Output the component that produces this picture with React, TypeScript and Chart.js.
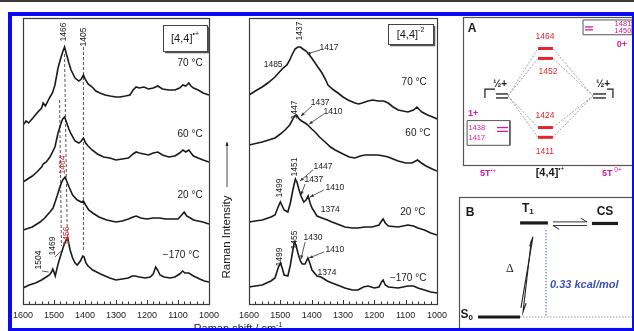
import React, { useEffect, useRef } from "react";
import { Chart, registerables } from "chart.js";
Chart.register(...registerables);

const SANS = '"Liberation Sans", Arial, Helvetica, sans-serif';
const SERIF = '"Liberation Serif", "DejaVu Serif", serif';
const INK = "#1a1a1a";
const RED = "#e3262e";
const MAGENTA = "#d9189c";
const BLUE_TXT = "#3c50b4";

// ---------------- data: x-axis ----------------
const xTickLabels = [1600, 1500, 1400, 1300, 1200, 1100, 1000];
const temps = ["70 °C", "60 °C", "20 °C", "−170 °C"];

// ---------------- panel 1: [4,4]•+ Raman spectra (stacked, arbitrary units) ----------------
const p1W70 = [1600,1590,1582,1568,1555,1540,1535,1528,1513,1505,1497,1487,1478,1472,1466,1460,1452,1445,1432,1420,1412,1405,1398,1390,1377,1365,1352,1335,1319,1300,1287,1270,1255,1245,1235,1225,1210,1195,1180,1165,1150,1130,1110,1095,1084,1075,1065,1058,1050,1035,1019,1000];
const p1I70 = [179,183,181,186,191,196,201,198,207,211,219,236,246,252,257,250,241,234,226,223,225,229,224,220,217,213,211,209,208,207,207,208,209,214,217,216,217,215,216,218,215,214,214,216,219,218,221,218,216,214,211,209];
const p1W60 = [1600,1585,1570,1555,1540,1535,1525,1513,1497,1487,1478,1472,1466,1460,1452,1445,1432,1420,1412,1405,1398,1390,1377,1360,1340,1320,1300,1280,1260,1245,1235,1225,1210,1195,1180,1165,1150,1130,1110,1095,1084,1075,1065,1058,1050,1035,1019,1000];
const p1I60 = [122,125,128,132,137,140,142,147,157,171,180,185,187,182,175,170,163,161,163,166,161,158,154,150,147,146,144,145,146,150,152,151,150,149,151,152,149,147,148,151,154,152,154,151,148,146,144,142];
const p1W20 = [1600,1570,1545,1530,1513,1503,1490,1480,1472,1464,1458,1450,1440,1425,1412,1405,1398,1388,1375,1355,1330,1300,1280,1260,1245,1235,1220,1200,1180,1160,1140,1120,1100,1088,1080,1072,1060,1050,1035,1020,1000];
const p1I20 = [74,77,82,86,92,96,108,118,124,127,122,116,109,104,102,103,99,94,91,87,84,82,83,85,87,88,86,85,86,86,85,85,85,89,92,88,86,84,83,82,80];
const p1Wm170 = [1600,1580,1560,1540,1525,1515,1508,1504,1500,1496,1490,1485,1478,1470,1465,1460,1456,1452,1448,1440,1432,1425,1415,1407,1403,1397,1390,1375,1350,1320,1300,1280,1260,1248,1238,1225,1205,1190,1180,1172,1166,1158,1145,1125,1110,1095,1085,1078,1065,1050,1030,1015,1000];
const p1Im170 = [16,19,21,24,27,29,32,35,32,28,36,42,49,57,61,64,66,60,54,46,41,39,43,48,47,41,38,34,30,26,24,25,26,28,28,27,26,27,30,37,34,29,27,26,27,30,33,31,31,28,25,23,22];

// ---------------- panel 2: [4,4]-2 Raman spectra ----------------
const p2W70 = [1600,1580,1558,1540,1517,1500,1491,1479,1470,1463,1453,1444,1436,1428,1418,1412,1400,1389,1378,1367,1355,1348,1330,1316,1300,1284,1262,1250,1239,1220,1205,1188,1170,1156,1140,1124,1093,1075,1064,1055,1048,1030,1006,1000];
const p2I70 = [209,213,217,221,227,233,236,239,244,249,255,257,257,255,253,251,246,241,236,231,224,219,214,211,207,204,201,200,201,203,204,203,203,201,197,194,192,194,197,194,192,189,186,185];
const p2W60 = [1600,1558,1517,1500,1485,1470,1463,1455,1448,1440,1432,1421,1412,1400,1389,1375,1357,1340,1325,1300,1280,1262,1245,1230,1210,1188,1170,1156,1140,1124,1100,1080,1062,1050,1035,1015,1000];
const p2I60 = [159,162,166,170,174,179,183,188,189,185,183,181,179,175,172,167,162,157,154,150,147,146,148,149,149,149,148,147,145,143,141,141,144,141,138,135,133];
const p2W20 = [1600,1580,1558,1530,1517,1507,1500,1494,1488,1476,1468,1460,1452,1447,1441,1434,1425,1418,1411,1405,1399,1383,1367,1350,1335,1310,1294,1270,1252,1230,1207,1185,1177,1172,1165,1155,1124,1093,1075,1061,1040,1020,1000];
const p2I20 = [82,83,84,87,89,97,102,98,94,92,101,114,125,122,115,108,102,104,108,101,96,88,86,84,82,79,77,76,76,77,77,79,83,85,81,78,77,79,78,76,74,71,69];
const p2Wm170 = [1600,1580,1558,1530,1517,1507,1500,1494,1488,1476,1468,1460,1455,1450,1444,1436,1430,1421,1412,1406,1399,1383,1370,1350,1335,1310,1294,1270,1252,1235,1220,1200,1185,1177,1172,1165,1155,1124,1093,1075,1061,1040,1020,1000];
const p2Im170 = [17,18,19,23,26,36,41,36,29,28,39,54,62,59,51,43,40,40,46,41,34,28,27,23,21,18,16,14,14,17,18,16,17,22,24,19,17,16,18,18,16,14,12,11];

// ---------------- panel A: level scheme (schematic units) ----------------
const aRedLevels = [78.7, 72.0, 25.3, 18.7];
const aRedNames = ["1464", "1452", "1424", "1411"];
const aHalfLevels = [48.0, 45.3];
const aOnePlusLevels = [25.3, 22.7];
const aOnePlusNames = ["1438", "1417"];
const aZeroPlusLevels = [93.3, 91.3];
const aZeroPlusNames = ["1481", "1450"];

// ---------------- panel B: state scheme ----------------
const bStateNames = ["S0", "T1", "CS"];
const bStateLevels = [8.4, 80.2, 79.8];
const bGap = "0.33 kcal/mol";

// ---------------- helpers ----------------
type Part = { t: string; size: number; weight?: string; style?: string; dy?: number; family?: string };
function drawParts(ctx: any, parts: Part[], x: number, y: number, color: string, align = "center") {
  ctx.save();
  ctx.fillStyle = color;
  ctx.textBaseline = "middle";
  ctx.textAlign = "left";
  const fonts = parts.map((p) => `${p.style || ""} ${p.weight || ""} ${p.size}px ${p.family || SANS}`.trim());
  let total = 0;
  parts.forEach((p, i) => { ctx.font = fonts[i]; total += ctx.measureText(p.t).width; });
  let cx = align === "center" ? x - total / 2 : align === "right" ? x - total : x;
  parts.forEach((p, i) => { ctx.font = fonts[i]; ctx.fillText(p.t, cx, y + (p.dy || 0)); cx += ctx.measureText(p.t).width; });
  ctx.restore();
  return total;
}
function drawRot(ctx: any, text: string, x: number, y: number, size: number, color: string) {
  ctx.save();
  ctx.translate(x, y);
  ctx.rotate(-Math.PI / 2);
  ctx.fillStyle = color;
  ctx.font = `${size}px ${SANS}`;
  ctx.textAlign = "center";
  ctx.textBaseline = "middle";
  ctx.fillText(text, 0, 0);
  ctx.restore();
}
function arrowLine(ctx: any, x1: number, y1: number, x2: number, y2: number, color = "#333") {
  ctx.save();
  ctx.strokeStyle = color;
  ctx.fillStyle = color;
  ctx.lineWidth = 0.8;
  ctx.beginPath(); ctx.moveTo(x1, y1); ctx.lineTo(x2, y2); ctx.stroke();
  const a = Math.atan2(y2 - y1, x2 - x1);
  ctx.beginPath();
  ctx.moveTo(x2, y2);
  ctx.lineTo(x2 - 4 * Math.cos(a - 0.4), y2 - 4 * Math.sin(a - 0.4));
  ctx.lineTo(x2 - 4 * Math.cos(a + 0.4), y2 - 4 * Math.sin(a + 0.4));
  ctx.closePath(); ctx.fill();
  ctx.restore();
}
function seg(points: number[][], color: string, width: number, dash: number[] = []) {
  return {
    data: points.map(([x, y]) => ({ x, y })),
    showLine: true, borderColor: color, borderWidth: width, borderDash: dash,
    pointRadius: 0, tension: 0, clip: false as any,
  };
}
function series(w: number[], v: number[]) {
  return {
    data: w.map((x, i) => ({ x, y: v[i] })),
    showLine: true, borderColor: INK, borderWidth: 1.6, pointRadius: 0, tension: 0,
  };
}
const framePlugin = (color = "#444", width = 1) => ({
  id: "frame",
  afterDatasetsDraw(chart: any) {
    const { left, top, right, bottom } = chart.chartArea;
    const ctx = chart.ctx;
    ctx.save(); ctx.strokeStyle = color; ctx.lineWidth = width;
    ctx.strokeRect(Math.round(left) + 0.5, Math.round(top) + 0.5, Math.round(right - left), Math.round(bottom - top));
    ctx.restore();
  },
});
const insideTicks = {
  id: "insideTicks",
  afterDatasetsDraw(chart: any) {
    const s = chart.scales.x; const ctx = chart.ctx; const b = chart.chartArea.bottom;
    ctx.save(); ctx.strokeStyle = "#333"; ctx.lineWidth = 1;
    for (const t of s.ticks) {
      const px = Math.round(s.getPixelForValue(t.value)) + 0.5;
      const len = xTickLabels.includes(t.value) ? 4 : 2.5;
      ctx.beginPath(); ctx.moveTo(px, b); ctx.lineTo(px, b - len); ctx.stroke();
    }
    ctx.restore();
  },
};
function boxLabel(ctx: any, right: number, top: number, w: number, h: number, sup: string) {
  ctx.save();
  ctx.fillStyle = "#fff";
  ctx.fillRect(right - w, top, w, h);
  ctx.strokeStyle = "#444"; ctx.lineWidth = 1;
  ctx.strokeRect(right - w + 0.5, top + 0.5, w, h);
  ctx.lineWidth = 1.5; ctx.strokeStyle = "#555";
  ctx.beginPath(); ctx.moveTo(right - w + 2, top + h + 1.5); ctx.lineTo(right + 1.5, top + h + 1.5); ctx.lineTo(right + 1.5, top + 2); ctx.stroke();
  ctx.restore();
  drawParts(ctx, [{ t: "[4,4]", size: 11 }, { t: sup, size: 7, dy: -5 }], right - w / 2, top + h / 2 + 1, INK);
}

function spectrumConfig(datasets: any[], padLeft: number, padRight: number, draw: (chart: any) => void) {
  return {
    type: "scatter",
    data: { datasets },
    options: {
      responsive: false, animation: false, devicePixelRatio: 1, events: [],
      layout: { padding: { left: padLeft, right: padRight, top: 18, bottom: 7 } },
      plugins: { legend: { display: false }, tooltip: { enabled: false } },
      scales: {
        x: {
          type: "linear", min: 1000, max: 1600, reverse: true,
          afterFit: (s: any) => { s.height = 20; },
          ticks: {
            stepSize: 20, autoSkip: false, maxRotation: 0, padding: 6, color: "#222",
            font: { family: SANS, size: 9 },
            callback: (v: any) => (xTickLabels.includes(v) ? String(v) : ""),
          },
          grid: { display: false, drawTicks: false }, border: { display: false },
        },
        y: { display: false, min: 0, max: 286 },
      },
    },
    plugins: [framePlugin("#3a3a3a", 1.2), insideTicks, { id: "labels", afterDraw: draw }],
  } as any;
}

// ---------------- panel configs ----------------
function panel1() {
  const ds = [
    series(p1W70, p1I70), series(p1W60, p1I60), series(p1W20, p1I20), series(p1Wm170, p1Im170),
    seg([[1405, 257], [1405, 52]], "#555", 1, [3, 2]),
    seg([[1466, 250], [1457, 64]], "#555", 1, [3, 2]),
    seg([[1482, 204], [1476, 58]], "#555", 1, [3, 2]),
  ];
  const draw = (chart: any) => {
    const ctx = chart.ctx; const X = (v: number) => chart.scales.x.getPixelForValue(v); const Y = (v: number) => chart.scales.y.getPixelForValue(v);
    drawRot(ctx, "1466", X(1468), Y(272), 8.5, INK);
    drawRot(ctx, "1405", X(1403), Y(267), 8.5, INK);
    drawRot(ctx, "1464", X(1471), Y(139), 8.5, RED);
    drawRot(ctx, "1456", X(1458), Y(68), 8.5, RED);
    drawRot(ctx, "1469", X(1503), Y(58), 8.5, INK);
    drawRot(ctx, "1504", X(1548), Y(44), 8.5, INK);
    ctx.save(); ctx.strokeStyle = "#333"; ctx.lineWidth = 0.8;
    ctx.beginPath(); ctx.moveTo(X(1497), Y(47)); ctx.lineTo(X(1478), Y(53)); ctx.stroke();
    ctx.beginPath(); ctx.moveTo(X(1539), Y(33)); ctx.lineTo(X(1517), Y(32)); ctx.stroke();
    ctx.restore();
    const tv = [241, 170, 109, 49]; const tw = [1061, 1061, 1061, 1090];
    temps.forEach((t, i) => drawParts(ctx, [{ t, size: 10 }], X(tw[i]), Y(tv[i]), INK));
    boxLabel(ctx, chart.chartArea.right - 2, chart.chartArea.top + 7, 44, 26, "•+");
  };
  return spectrumConfig(ds, 23, 634 - 209, draw);
}

function panel2() {
  const ds = [series(p2W70, p2I70), series(p2W60, p2I60), series(p2W20, p2I20), series(p2Wm170, p2Im170)];
  const draw = (chart: any) => {
    const ctx = chart.ctx; const X = (v: number) => chart.scales.x.getPixelForValue(v); const Y = (v: number) => chart.scales.y.getPixelForValue(v);
    const rot: [string, number, number][] = [["1437", 1437, 273], ["1447", 1453, 194], ["1451", 1453, 137], ["1499", 1501, 116], ["1499", 1501, 47], ["1455", 1453, 64]];
    rot.forEach(([t, w, v]) => drawRot(ctx, t, X(w), Y(v), 8.5, INK));
    const tags: [string, number, number, number, number, number, number][] = [
      ["1417", 1345, 256, 1373, 254, 1415, 250],
      ["1437", 1373, 201, 1399, 198, 1434, 188],
      ["1410", 1332, 192, 1361, 190, 1408, 180],
      ["1447", 1364, 137, 1396, 134, 1437, 123],
      ["1437", 1393, 124, 1421, 120, 1434, 109],
      ["1410", 1326, 116, 1361, 114, 1405, 107],
      ["1430", 1396, 66, 1421, 62, 1434, 45],
      ["1410", 1326, 54, 1361, 52, 1408, 46],
    ];
    tags.forEach(([t, w, v, w1, v1, w2, v2]) => {
      drawParts(ctx, [{ t, size: 8.5 }], X(w), Y(v), INK);
      arrowLine(ctx, X(w1), Y(v1), X(w2), Y(v2));
    });
    drawParts(ctx, [{ t: "1485", size: 8.5 }], X(1523), Y(239), INK);
    drawParts(ctx, [{ t: "1374", size: 8.5 }], X(1341), Y(94), INK);
    drawParts(ctx, [{ t: "1374", size: 8.5 }], X(1351), Y(31), INK);
    const tv = [222, 171, 92, 26]; const tw = [1073, 1061, 1077, 1092];
    temps.forEach((t, i) => drawParts(ctx, [{ t, size: 10 }], X(tw[i]), Y(tv[i]), INK));
    boxLabel(ctx, chart.chartArea.right - 4, chart.chartArea.top + 6, 45, 20, "-2");
    // axis titles
    const L = chart.chartArea.left;
    drawRot(ctx, "Raman Intensity", L - 22, 237, 11.5, INK);
    arrowLine(ctx, L - 22, 187, L - 22, 142, INK);
    drawParts(ctx, [{ t: "Raman shift / cm", size: 11 }, { t: "-1", size: 7, dy: -4 }], L - 11, 329, INK);
  };
  return spectrumConfig(ds, 249, 634 - 437, draw);
}

function diagramConfig(datasets: any[], pad: any, draw: (chart: any) => void, frameColor: string) {
  return {
    type: "scatter",
    data: { datasets },
    options: {
      responsive: false, animation: false, devicePixelRatio: 1, events: [],
      layout: { padding: pad },
      plugins: { legend: { display: false }, tooltip: { enabled: false } },
      scales: { x: { display: false, min: 0, max: 100 }, y: { display: false, min: 0, max: 100 } },
    },
    plugins: [framePlugin(frameColor, 1.2), { id: "labels", afterDraw: draw }],
  } as any;
}

function panelA() {
  const cL = 44.1, cR = 52.9, hL = [19.4, 26.5], hR = [76.5, 84.1];
  const halfMid = (aHalfLevels[0] + aHalfLevels[1]) / 2;
  const ds: any[] = [];
  aRedLevels.forEach((y) => {
    ds.push(seg([[hL[1], halfMid], [cL, y]], "#9a9a9a", 0.9, [2, 1.5]));
    ds.push(seg([[hR[0], halfMid], [cR, y]], "#9a9a9a", 0.9, [2, 1.5]));
  });
  aRedLevels.forEach((y) => ds.push(seg([[cL, y], [cR, y]], RED, 3)));
  aHalfLevels.forEach((y) => { ds.push(seg([[hL[0], y], [hL[1], y]], INK, 1.3)); ds.push(seg([[hR[0], y], [hR[1], y]], INK, 1.3)); });
  ds.push(seg([[12.9, aHalfLevels[1]], [12.9, 51.3], [18.8, 51.3]], INK, 1.2));
  ds.push(seg([[84.7, 51.3], [88.2, 51.3], [88.2, aHalfLevels[1]]], INK, 1.2));
  aOnePlusLevels.forEach((y) => ds.push(seg([[hL[0] + 0.6, y], [hL[1], y]], MAGENTA, 1.3)));
  aZeroPlusLevels.forEach((y) => ds.push(seg([[71.8, y], [76.5, y]], MAGENTA, 1.3)));
  // small boxes
  ds.push(seg([[2.4, 30], [27.6, 30], [27.6, 13.3], [2.4, 13.3], [2.4, 30]], "#555", 1));
  ds.push(seg([[70.6, 98], [99.6, 98], [99.6, 88], [70.6, 88], [70.6, 98]], "#555", 1));
  const draw = (chart: any) => {
    const ctx = chart.ctx; const X = (v: number) => chart.scales.x.getPixelForValue(v); const Y = (v: number) => chart.scales.y.getPixelForValue(v);
    drawParts(ctx, [{ t: "A", size: 12, weight: "bold" }], X(5.3), Y(92), INK);
    const ly = [86.7, 63.3, 33.3, 8.7]; const lx = [48.2, 50, 48.2, 48.2];
    aRedNames.forEach((t, i) => drawParts(ctx, [{ t, size: 8.5 }], X(lx[i]), Y(ly[i]), RED));
    drawParts(ctx, [{ t: "½+", size: 10, weight: "bold" }], X(21.8), Y(54.5), INK);
    drawParts(ctx, [{ t: "½+", size: 10, weight: "bold" }], X(82.4), Y(54.5), INK);
    drawParts(ctx, [{ t: "1+", size: 9, weight: "bold" }], X(5.9), Y(34.7), MAGENTA);
    const oy = [25.0, 18.3];
    aOnePlusNames.forEach((t, i) => drawParts(ctx, [{ t, size: 7.5 }], X(3.2), Y(oy[i]), MAGENTA, "left"));
    const zy = [95.6, 90.6];
    aZeroPlusNames.forEach((t, i) => drawParts(ctx, [{ t, size: 7.5 }], X(99), Y(zy[i]), MAGENTA, "right"));
    drawParts(ctx, [{ t: "0+", size: 9, weight: "bold" }], X(93.5), Y(81.3), MAGENTA);
    drawParts(ctx, [{ t: "5T", size: 9, weight: "bold" }, { t: "•+", size: 6, dy: -3 }], X(14.7), Y(-5.6), MAGENTA);
    drawParts(ctx, [{ t: "[4,4]", size: 11, weight: "bold" }, { t: "•+", size: 6.5, dy: -4 }], X(51.2), Y(-5.6), INK);
    drawParts(ctx, [{ t: "5T", size: 9, weight: "bold" }, { t: " 0+", size: 6.5, dy: -3 }], X(87.6), Y(-5.6), MAGENTA);
  };
  return diagramConfig(ds, { left: 463, right: 1, top: 17, bottom: 331 - 165 }, draw, "#555");
}

function panelB() {
  const [s0, t1, cs] = bStateLevels;
  const ds: any[] = [
    seg([[35.1, s0], [99.4, s0]], "#9a9a9a", 1, [1.5, 1.5]),
    seg([[50, t1 - 5.4], [50, s0]], "#4058c0", 1.1, [1.2, 1.8]),
    seg([[10.9, s0], [35.1, s0]], INK, 3.2),
    seg([[35.1, t1], [51.1, t1]], INK, 3.2),
    seg([[76.4, cs], [91.4, cs]], INK, 3.2),
    seg([[54, t1 + 0.8], [73.6, t1 + 0.8], [70, t1 + 3.6]], "#333", 1),
    seg([[73.6, t1 - 2], [54, t1 - 2], [57.6, t1 - 4.8]], "#333", 1),
    seg([[35.6, 15.3], [42.5, 69.5], [40.6, 62.5]], "#222", 1.1),
    seg([[41.6, 67.2], [36.8, 12.2], [38.6, 19]], "#222", 1.1),
  ];
  const draw = (chart: any) => {
    const ctx = chart.ctx; const X = (v: number) => chart.scales.x.getPixelForValue(v); const Y = (v: number) => chart.scales.y.getPixelForValue(v);
    drawParts(ctx, [{ t: "B", size: 12, weight: "bold" }], X(6.3), Y(87.8), INK);
    drawParts(ctx, [{ t: bStateNames[1][0], size: 12, weight: "bold" }, { t: bStateNames[1][1], size: 8, weight: "bold", dy: 3 }], X(39.6), Y(91.2), INK);
    drawParts(ctx, [{ t: bStateNames[2], size: 12, weight: "bold" }], X(83.9), Y(88.6), INK);
    drawParts(ctx, [{ t: bStateNames[0][0], size: 12, weight: "bold" }, { t: bStateNames[0][1], size: 8, weight: "bold", dy: 3 }], X(4.4), Y(10), INK);
    drawParts(ctx, [{ t: "Δ", size: 12, family: SERIF }], X(29.3), Y(45.3), INK);
    drawParts(ctx, [{ t: bGap, size: 11, weight: "bold", style: "italic" }], X(52.3), Y(32.8), BLUE_TXT, "left");
  };
  return diagramConfig(ds, { left: 459, right: 1, top: 197, bottom: 3 }, draw, "#555");
}

export default function App() {
  const r1 = useRef<HTMLCanvasElement>(null);
  const r2 = useRef<HTMLCanvasElement>(null);
  const r3 = useRef<HTMLCanvasElement>(null);
  const r4 = useRef<HTMLCanvasElement>(null);
  useEffect(() => {
    document.body.style.margin = "0";
    const charts = [
      new Chart(r1.current as any, panel1()),
      new Chart(r2.current as any, panel2()),
      new Chart(r3.current as any, panelA()),
      new Chart(r4.current as any, panelB()),
    ];
    return () => charts.forEach((c) => c.destroy());
  }, []);
  const cv: any = { position: "absolute", left: 0, top: 0, width: 634, height: 331 };
  const blue = "#0a0af5";
  return (
    <div style={{ position: "fixed", left: 0, top: 0, width: 634, height: 331, background: "#fff", overflow: "hidden" }}>
      <canvas ref={r1} width={634} height={331} style={cv} />
      <canvas ref={r2} width={634} height={331} style={cv} />
      <canvas ref={r3} width={634} height={331} style={cv} />
      <canvas ref={r4} width={634} height={331} style={cv} />
      <div style={{ position: "absolute", left: 0, top: 0, width: 634, height: 2, background: "#3a3a3a" }} />
      <div style={{ position: "absolute", left: 8, top: 12, width: 4, height: 319, background: blue }} />
      <div style={{ position: "absolute", left: 8, top: 12, width: 626, height: 4, background: blue }} />
      <div style={{ position: "absolute", left: 632, top: 12, width: 2, height: 319, background: blue }} />
      <div style={{ position: "absolute", left: 8, top: 328, width: 626, height: 3, background: blue }} />
    </div>
  );
}
